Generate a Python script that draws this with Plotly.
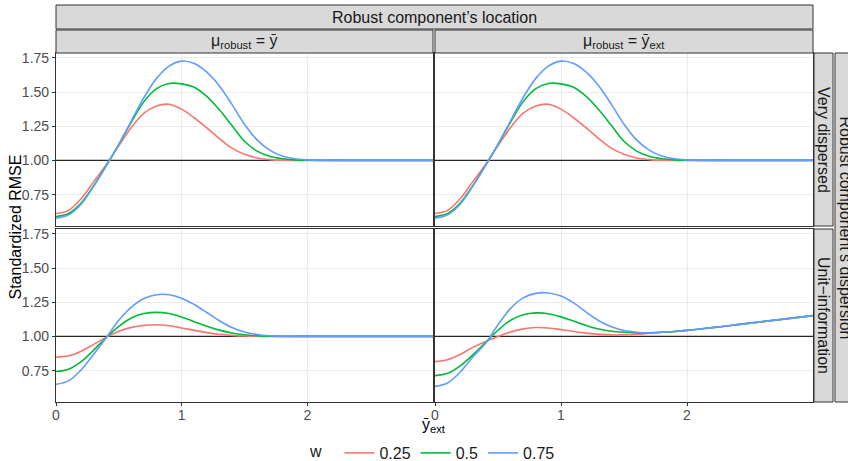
import plotly.graph_objects as go

# ---------------- data ----------------
x_grid = [round(0.1 * i, 1) for i in range(31)]

# Very dispersed, mu_robust = ybar  (top-left)
tl_w025 = [0.612, 0.635, 0.720, 0.845, 0.968, 1.108, 1.240, 1.345, 1.398, 1.411, 1.375, 1.312, 1.238, 1.160, 1.090, 1.045, 1.018, 1.006, 1.001, 1.000, 1.000,
           1.000, 1.000, 1.000, 1.000, 1.000, 1.000, 1.000, 1.000, 1.000, 1.000]
tl_w050 = [0.590, 0.612, 0.688, 0.815, 0.962, 1.118, 1.280, 1.430, 1.525, 1.563, 1.560, 1.535, 1.468, 1.370, 1.255, 1.140, 1.068, 1.030, 1.012, 1.004, 1.001,
           1.000, 1.000, 1.000, 1.000, 1.000, 1.000, 1.000, 1.000, 1.000, 1.000]
tl_w075 = [0.578, 0.602, 0.680, 0.812, 0.960, 1.118, 1.290, 1.460, 1.600, 1.690, 1.726, 1.708, 1.645, 1.545, 1.410, 1.265, 1.150, 1.075, 1.032, 1.012, 1.004,
           1.001, 1.000, 1.000, 1.000, 1.000, 1.000, 1.000, 1.000, 1.000, 1.000]

# Very dispersed, mu_robust = ybar_ext  (top-right)
tr_w025 = [0.612, 0.635, 0.720, 0.845, 0.968, 1.108, 1.240, 1.345, 1.398, 1.411, 1.375, 1.312, 1.238, 1.160, 1.090, 1.045, 1.018, 1.006, 1.001, 1.000, 1.000,
           1.000, 1.000, 1.000, 1.000, 1.000, 1.000, 1.000, 1.000, 1.000, 1.000]
tr_w050 = [0.590, 0.612, 0.688, 0.815, 0.962, 1.118, 1.280, 1.430, 1.525, 1.563, 1.560, 1.535, 1.468, 1.370, 1.255, 1.140, 1.068, 1.030, 1.012, 1.004, 1.001,
           1.000, 1.000, 1.000, 1.000, 1.000, 1.000, 1.000, 1.000, 1.000, 1.000]
tr_w075 = [0.578, 0.602, 0.680, 0.812, 0.960, 1.118, 1.290, 1.460, 1.600, 1.690, 1.726, 1.708, 1.645, 1.545, 1.410, 1.265, 1.150, 1.075, 1.032, 1.012, 1.004,
           1.001, 1.000, 1.000, 1.000, 1.000, 1.000, 1.000, 1.000, 1.000, 1.000]

# Unit-information, mu_robust = ybar  (bottom-left)
bl_w025 = [0.848, 0.858, 0.892, 0.942, 0.993, 1.037, 1.066, 1.081, 1.085, 1.078, 1.062, 1.044, 1.028, 1.016, 1.008, 1.003, 1.001, 1.000, 1.000, 1.000, 1.000,
           1.000, 1.000, 1.000, 1.000, 1.000, 1.000, 1.000, 1.000, 1.000, 1.000]
bl_w050 = [0.743, 0.760, 0.815, 0.900, 0.992, 1.074, 1.135, 1.167, 1.176, 1.168, 1.142, 1.108, 1.074, 1.046, 1.025, 1.012, 1.005, 1.002, 1.000, 1.000, 1.000,
           1.000, 1.000, 1.000, 1.000, 1.000, 1.000, 1.000, 1.000, 1.000, 1.000]
bl_w075 = [0.650, 0.675, 0.755, 0.870, 0.990, 1.118, 1.215, 1.278, 1.305, 1.305, 1.280, 1.233, 1.175, 1.115, 1.065, 1.032, 1.014, 1.005, 1.002, 1.000, 1.000,
           1.000, 1.000, 1.000, 1.000, 1.000, 1.000, 1.000, 1.000, 1.000, 1.000]

# Unit-information, mu_robust = ybar_ext  (bottom-right)
br_w025 = [0.816, 0.830, 0.868, 0.920, 0.962, 1.000, 1.033, 1.055, 1.065, 1.062, 1.050, 1.036, 1.024, 1.015, 1.011, 1.012, 1.016, 1.023, 1.030, 1.036, 1.044,
           1.054, 1.064, 1.075, 1.086, 1.097, 1.108, 1.119, 1.130, 1.141, 1.152]
br_w050 = [0.713, 0.730, 0.785, 0.865, 0.955, 1.045, 1.118, 1.158, 1.172, 1.166, 1.143, 1.112, 1.080, 1.054, 1.038, 1.030, 1.026, 1.026, 1.030, 1.036, 1.044,
           1.054, 1.064, 1.075, 1.086, 1.097, 1.108, 1.119, 1.130, 1.141, 1.152]
br_w075 = [0.635, 0.660, 0.740, 0.850, 0.948, 1.085, 1.205, 1.282, 1.315, 1.318, 1.295, 1.245, 1.178, 1.115, 1.070, 1.043, 1.031, 1.027, 1.030, 1.036, 1.044,
           1.054, 1.064, 1.075, 1.086, 1.097, 1.108, 1.119, 1.130, 1.141, 1.152]

w_levels = ["0.25", "0.5", "0.75"]
w_colors = ["#F8766D", "#00BA38", "#619CFF"]
y_ticks = [0.75, 1.00, 1.25, 1.50, 1.75]
y_ticklabels = ["0.75", "1.00", "1.25", "1.50", "1.75"]
x_ticks = [0, 1, 2]
x_range = [0, 3]
y_range = [0.5205, 1.7855]
reference_level = 1.0

col_labels = ["μ<sub>robust</sub> = ȳ", "μ<sub>robust</sub> = ȳ<sub>ext</sub>"]
row_labels = ["Very dispersed", "Unit−information"]
col_title = "Robust component’s location"
row_title = "Robust component’s dispersion"
y_title = "Standardized RMSE"
x_title = "ȳ<sub>ext</sub>"

panels = [
    (1, 1, [tl_w025, tl_w050, tl_w075]),
    (1, 2, [tr_w025, tr_w050, tr_w075]),
    (2, 1, [bl_w025, bl_w050, bl_w075]),
    (2, 2, [br_w025, br_w050, br_w075]),
]

# ---------------- layout geometry (pixels) ----------------
W, H = 848, 461
FONT = "Liberation Sans, Arial, sans-serif"
col_px = [(56, 433), (435, 813)]
row_px = [(53, 226), (229, 402)]


def px(v):
    return v / W


def py(v):
    return 1 - v / H


fig = go.Figure()

axis_idx = {(1, 1): 1, (1, 2): 2, (2, 1): 3, (2, 2): 4}


def names(k):
    return ("x" if k == 1 else f"x{k}", "y" if k == 1 else f"y{k}")


for (r, c, series) in panels:
    k = axis_idx[(r, c)]
    xa, ya = names(k)
    # reference line at 1 (drawn under the curves, above the grid)
    fig.add_trace(go.Scatter(
        x=x_range, y=[reference_level, reference_level], mode="lines", xaxis=xa, yaxis=ya,
        line=dict(color="#262626", width=1.4), showlegend=False, hoverinfo="skip",
    ))
    for i, ys in enumerate(series):
        fig.add_trace(go.Scatter(
            x=x_grid, y=ys, mode="lines", xaxis=xa, yaxis=ya,
            line=dict(color=w_colors[i], width=1.6, shape="spline", smoothing=1.0),
            name=w_levels[i], legendgroup=w_levels[i],
            showlegend=(k == 1), hoverinfo="skip",
        ))

layout = dict(
    width=W, height=H, margin=dict(l=0, r=0, t=0, b=0, autoexpand=False),
    paper_bgcolor="white", plot_bgcolor="white",
    font=dict(family=FONT, color="#1A1A1A", size=16),
    showlegend=True, hovermode=False,
    legend=dict(
        orientation="h", x=434 / W, xanchor="center", y=py(453), yanchor="middle",
        title=dict(text="w  ", font=dict(size=16, color="#1A1A1A")),
        font=dict(size=16, color="#1A1A1A"), bgcolor="rgba(0,0,0,0)",
    ),
)

for (r, c), k in axis_idx.items():
    xk = "xaxis" if k == 1 else f"xaxis{k}"
    yk = "yaxis" if k == 1 else f"yaxis{k}"
    xa, ya = names(k)
    x0, x1 = col_px[c - 1]
    y0, y1 = row_px[r - 1]
    layout[xk] = dict(
        domain=[px(x0), px(x1)], anchor=ya, range=x_range,
        tickvals=x_ticks, ticktext=[str(t) for t in x_ticks],
        showticklabels=(r == 2), ticks="outside" if r == 2 else "",
        ticklen=3, tickcolor="#333333", tickwidth=1, ticklabelstandoff=-3,
        tickfont=dict(size=14, color="#4D4D4D", family=FONT),
        showgrid=True, gridcolor="#EBEBEB", gridwidth=1,
        showline=True, mirror=True, linecolor="#333333", linewidth=1.2,
        zeroline=False, fixedrange=True, automargin=False,
    )
    layout[yk] = dict(
        domain=[py(y1), py(y0)], anchor=xa, range=y_range,
        tickvals=y_ticks, ticktext=y_ticklabels,
        showticklabels=(c == 1), ticks="outside" if c == 1 else "",
        ticklen=3, tickcolor="#333333", tickwidth=1,
        tickfont=dict(size=14, color="#4D4D4D", family=FONT),
        showgrid=True, gridcolor="#EBEBEB", gridwidth=1,
        showline=True, mirror=True, linecolor="#333333", linewidth=1.2,
        zeroline=False, fixedrange=True, automargin=False,
    )

fig.update_layout(**layout)

shapes = []
annotations = []
strip_fill = "#D9D9D9"
strip_line = dict(color="#333333", width=1)


def strip(x0, x1, y0, y1):
    shapes.append(dict(type="rect", xref="paper", yref="paper",
                       x0=px(x0), x1=px(x1), y0=py(y1), y1=py(y0),
                       fillcolor=strip_fill, line=strip_line, layer="above"))


# top title strip
strip(56, 813, 5, 29)
annotations.append(dict(text=col_title, x=px((56 + 813) / 2), y=py(17), xref="paper", yref="paper",
                        showarrow=False, xanchor="center", yanchor="middle",
                        font=dict(size=16, color="#1A1A1A", family=FONT)))
# column strips
for i, (x0, x1) in enumerate(col_px):
    strip(x0, x1, 30, 53)
    annotations.append(dict(text=col_labels[i], x=px((x0 + x1) / 2), y=py(41.5), xref="paper", yref="paper",
                            showarrow=False, xanchor="center", yanchor="middle",
                            font=dict(size=16, color="#1A1A1A", family=FONT)))
# row strips
for i, (y0, y1) in enumerate(row_px):
    strip(814, 833, y0, y1)
    annotations.append(dict(text=row_labels[i], x=px(823.5), y=py((y0 + y1) / 2), xref="paper", yref="paper",
                            showarrow=False, xanchor="center", yanchor="middle", textangle=90,
                            font=dict(size=16, color="#1A1A1A", family=FONT)))
# outer row title strip
strip(835, 862, 53, 402)
annotations.append(dict(text=row_title, x=px(845), y=py((53 + 402) / 2), xref="paper", yref="paper",
                        showarrow=False, xanchor="center", yanchor="middle", textangle=90,
                        font=dict(size=16, color="#1A1A1A", family=FONT)))
# axis titles
annotations.append(dict(text=y_title, x=px(15), y=py((53 + 402) / 2), xref="paper", yref="paper",
                        showarrow=False, xanchor="center", yanchor="middle", textangle=-90,
                        font=dict(size=16, color="#000000", family=FONT)))
annotations.append(dict(text=x_title, x=px(434), y=py(425), xref="paper", yref="paper",
                        showarrow=False, xanchor="center", yanchor="middle",
                        font=dict(size=16, color="#000000", family=FONT)))

fig.update_layout(shapes=shapes, annotations=annotations)

post = (
    "document.documentElement.style.margin='0px';"
    "document.body.style.margin='0px';"
    "document.body.style.padding='0px';"
    "document.documentElement.style.overflow='hidden';"
    "document.body.style.overflow='hidden';"
    "var d=document.getElementsByClassName('plotly-graph-div')[0];"
    "d.style.position='fixed';d.style.left='0px';d.style.top='0px';"
)
fig.write_html("out.html", config={"displayModeBar": False, "responsive": False}, post_script=post)
